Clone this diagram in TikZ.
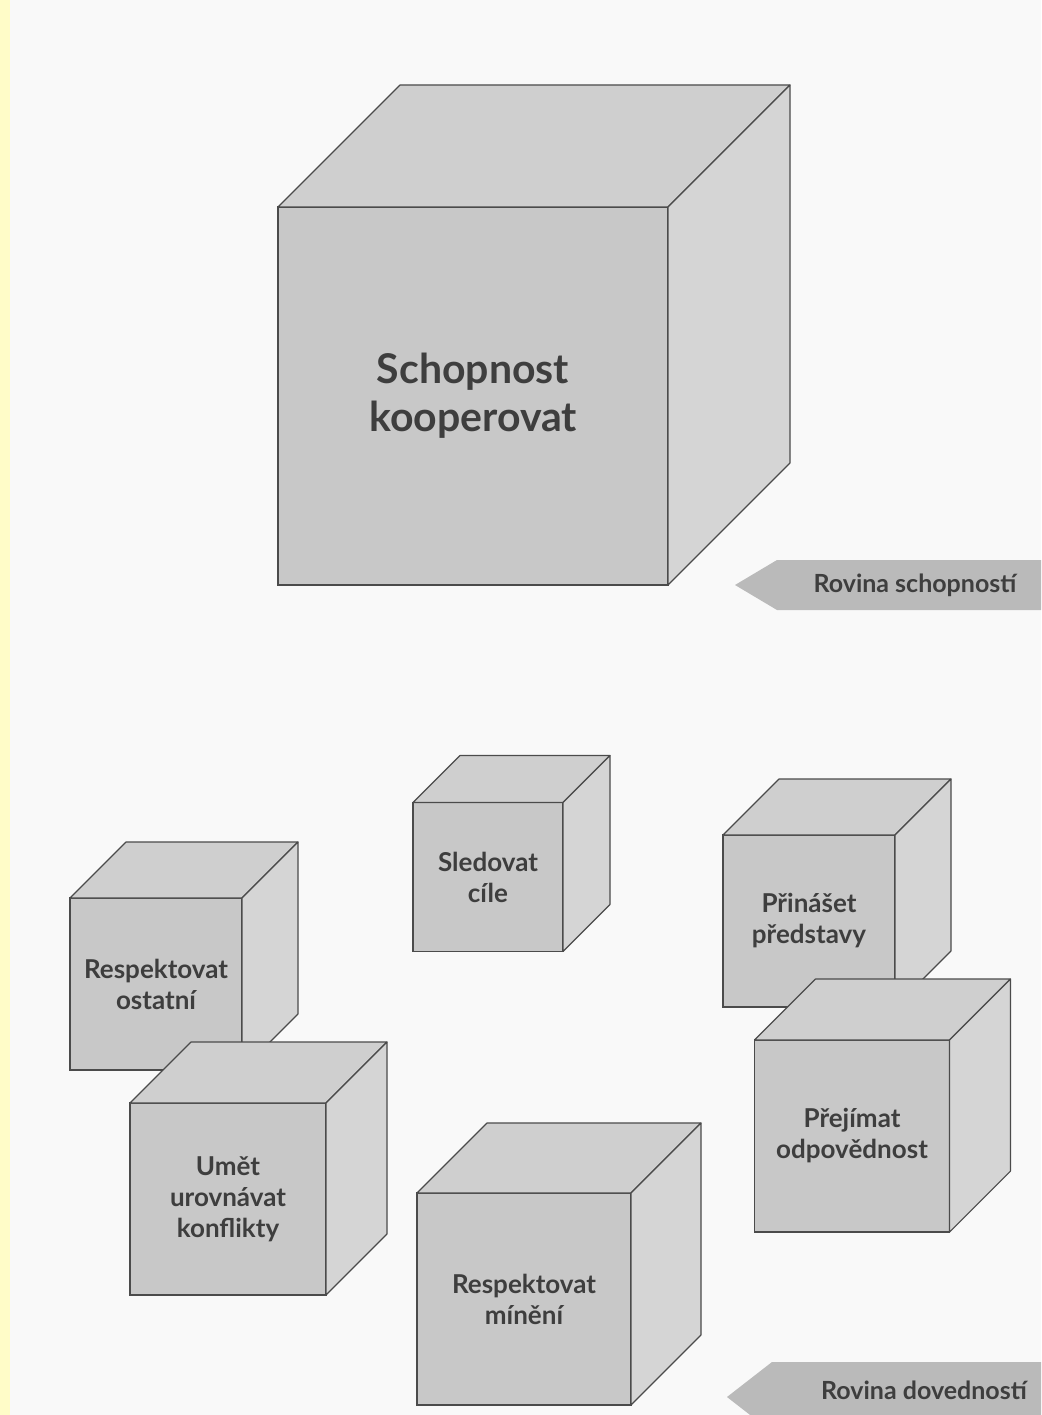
\documentclass[tikz,border=0pt]{standalone}
\usepackage{fontspec}
\setmainfont{Lato}
\usepackage{xcolor}
\usetikzlibrary{calc}

\definecolor{pagebg}{RGB}{249,249,249}
\definecolor{stripyellow}{RGB}{255,252,200}
\definecolor{frontgray}{RGB}{200,200,200}
\definecolor{topgray}{RGB}{207,207,207}
\definecolor{sidegray}{RGB}{213,213,213}
\definecolor{edgegray}{RGB}{75,75,75}
\definecolor{textgray}{RGB}{62,62,62}
\definecolor{arrowgray}{RGB}{186,186,186}

% top and right faces of a cube whose front face is node #1, depth #2
\newcommand\kostka[2]{%
  \path[topface] (#1.north west) -- ($(#1.north west)+(#2,-#2)$) -- ($(#1.north east)+(#2,-#2)$) -- (#1.north east) -- cycle;
  \path[sideface] (#1.north east) -- ($(#1.north east)+(#2,-#2)$) -- ($(#1.south east)+(#2,-#2)$) -- (#1.south east) -- cycle;
}

\begin{document}
\begin{tikzpicture}[x=1pt,y=-1pt,
    frontface/.style={draw=edgegray,fill=frontgray,line width=1.1pt,inner sep=0pt,outer sep=0pt,
      align=center,text=textgray,font=\bfseries\fontsize{26}{31}\selectfont},
    topface/.style={draw=edgegray,fill=topgray,line width=1.1pt,line join=round},
    sideface/.style={draw=edgegray,fill=sidegray,line width=1.1pt,line join=round},
    arrowlabel/.style={inner sep=0pt,text=textgray,font=\bfseries\fontsize{25}{28}\selectfont},
    labelarrow/.style={fill=arrowgray,draw=none}]
    \clip (0,0) rectangle (1041,1415);
    \useasboundingbox (0,0) rectangle (1041,1415);
    \path[fill=pagebg] (0,0) rectangle (1041,1415);
    \path[fill=stripyellow] (0,0) rectangle (10,1415);

    % big cube
    \node(schopnost)[frontface,minimum width=390pt,minimum height=378pt,
      font=\bfseries\fontsize{41}{48}\selectfont] at (473,396) {Schopnost\\kooperovat};
    \kostka{schopnost}{122}

    \path[labelarrow] (735,585) -- (777,560) -- (1045,560) -- (1045,610) -- (777,610) -- cycle;
    \node(rovs)[arrowlabel] at (915,585) {Rovina schopností};

    % small cubes
    \node(sledovat)[frontface,minimum width=150pt,minimum height=149pt] at (488,877) {Sledovat\\cíle};
    \kostka{sledovat}{47}

    \node(ostatni)[frontface,minimum width=172pt,minimum height=172pt] at (156,984) {Respektovat\\ostatní};
    \kostka{ostatni}{56}

    \node(konflikty)[frontface,minimum width=196pt,minimum height=192pt] at (228,1199) {Umět\\urovnávat\\konflikty};
    \kostka{konflikty}{61}

    \node(predstavy)[frontface,minimum width=172pt,minimum height=172pt] at (809,921) {Přinášet\\představy};
    \kostka{predstavy}{56}

    \node(odpovednost)[frontface,minimum width=195pt,minimum height=192pt] at (852,1136) {Přejímat\\odpovědnost};
    \kostka{odpovednost}{61}

    \node(mineni)[frontface,minimum width=214pt,minimum height=212pt] at (524,1299) {Respektovat\\mínění};
    \kostka{mineni}{70}

    \path[labelarrow] (727,1397) -- (772,1362) -- (1045,1362) -- (1045,1432) -- (772,1432) -- cycle;
    \node(rovd)[arrowlabel] at (924,1390) {Rovina dovedností};
  \end{tikzpicture}
\end{document}
